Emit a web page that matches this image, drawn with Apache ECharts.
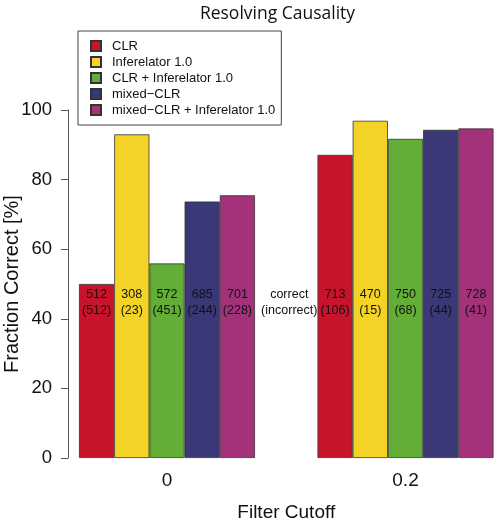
<!DOCTYPE html>
<html>
<head>
<meta charset="utf-8">
<script src="https://cdn.jsdelivr.net/npm/echarts@6/dist/echarts.min.js"></script>
<style>html,body{margin:0;padding:0;background:#fff}#c{width:498px;height:523px}</style>
</head>
<body>
<div id="c"></div>
<script>
const categories = ['0', '0.2'];
const seriesNames = ['CLR', 'Inferelator 1.0', 'CLR + Inferelator 1.0', 'mixed\u2212CLR', 'mixed\u2212CLR + Inferelator 1.0'];
const seriesColors = ['#C8142B', '#F4D327', '#62AE37', '#3A3877', '#A3327A'];
// fraction correct [%] per series, for cutoff 0 and 0.2
const clr = [50.0, 87.1];
const inferelator = [93.0, 96.9];
const clrInf = [55.9, 91.7];
const mixedClr = [73.7, 94.3];
const mixedClrInf = [75.5, 94.7];
// counts shown in bars: correct and (incorrect)
const correct0 = [512, 308, 572, 685, 701];
const incorrect0 = [512, 23, 451, 244, 228];
const correct02 = [713, 470, 750, 725, 728];
const incorrect02 = [106, 15, 68, 44, 41];
const yTicks = [0, 20, 40, 60, 80, 100];
const labelLevel = 44.8;

const values = [clr, inferelator, clrInf, mixedClr, mixedClrInf];
const catGap = 0.262;
const FONT = '"Liberation Sans", Arial, sans-serif';

const chart = echarts.init(document.getElementById('c'), null, {renderer: 'canvas'});

const barSeries = seriesNames.map((n, i) => ({
  name: n,
  type: 'bar',
  xAxisIndex: 0, yAxisIndex: 0,
  data: values[i],
  barGap: '0%',
  barCategoryGap: (catGap * 100) + '%',
  itemStyle: {color: seriesColors[i], borderColor: '#333', borderWidth: 0.8},
  emphasis: {disabled: true},
  animation: false
}));

const labelData = [];
for (let s = 0; s < 5; s++) {
  labelData.push([0, s, correct0[s], incorrect0[s]]);
  labelData.push([1, s, correct02[s], incorrect02[s]]);
}

const labelSeries = {
  type: 'custom',
  xAxisIndex: 0, yAxisIndex: 0,
  data: labelData,
  silent: true,
  animation: false,
  z: 10,
  renderItem: function (params, api) {
    const cat = api.value(0), s = api.value(1);
    const c = api.coord([cat, labelLevel]);
    const band = api.size([1, 0])[0];
    const gw = band * (1 - catGap);
    const bw = gw / 5;
    const x = c[0] - gw / 2 + bw * (s + 0.5);
    return {
      type: 'text',
      style: {
        x: x, y: c[1],
        text: api.value(2) + '\n(' + api.value(3) + ')',
        fill: '#111', font: '12.5px ' + FONT,
        align: 'center', verticalAlign: 'middle', lineHeight: 16
      }
    };
  }
};

const midSeries = {
  type: 'custom',
  xAxisIndex: 0, yAxisIndex: 0,
  data: [[0, 1]],
  silent: true,
  animation: false,
  z: 10,
  renderItem: function (params, api) {
    const a = api.coord([api.value(0), labelLevel]);
    const b = api.coord([api.value(1), labelLevel]);
    const band = api.size([1, 0])[0];
    const gw = band * (1 - catGap);
    const x = ((a[0] + gw / 2) + (b[0] - gw / 2)) / 2 + 3;
    return {
      type: 'text',
      style: {
        x: x, y: a[1],
        text: 'correct\n(incorrect)',
        fill: '#111', font: '12.5px ' + FONT,
        align: 'center', verticalAlign: 'middle', lineHeight: 16
      }
    };
  }
};

chart.setOption({
  backgroundColor: '#fff',
  animation: false,
  textStyle: {fontFamily: FONT},
  title: {
    text: 'Resolving Causality',
    left: 272.5, top: 0, textAlign: 'center',
    textStyle: {fontFamily: '"Open Sans", sans-serif', fontSize: 17.5, fontWeight: 'normal', color: '#111'}
  },
  legend: {
    data: seriesNames,
    orient: 'vertical',
    left: 78, top: 31,
    padding: [7, 6, 7, 12],
    itemWidth: 10, itemHeight: 10, itemGap: 0,
    borderColor: '#444', borderWidth: 1,
    backgroundColor: '#fff',
    textStyle: {fontFamily: FONT, fontSize: 13, color: '#111', lineHeight: 16, padding: [0, 0, 0, 6]},
    selectedMode: false,
    icon: 'rect'
  },
  grid: [
    {left: 47.75, width: 477, top: 110, bottom: 65, outerBoundsMode: 'none', containLabel: false},
    {left: 68, width: 1, top: 110, bottom: 65, outerBoundsMode: 'none', containLabel: false}
  ],
  xAxis: [
    {
      type: 'category', gridIndex: 0, data: categories,
      axisLine: {show: false}, axisTick: {show: false},
      axisLabel: {fontSize: 19, color: '#111', margin: 13, fontFamily: FONT},
      name: 'Filter Cutoff', nameLocation: 'middle', nameGap: 45, nameMoveOverlap: false,
      nameTextStyle: {fontSize: 19, color: '#111', fontFamily: FONT}
    },
    {type: 'value', gridIndex: 1, show: false}
  ],
  yAxis: [
    {type: 'value', gridIndex: 0, min: 0, max: 100, interval: 20, show: false},
    {
      type: 'value', gridIndex: 1, min: 0, max: 100, interval: 20,
      axisLine: {show: true, lineStyle: {color: '#555', width: 1}},
      axisTick: {show: true, length: 7, lineStyle: {color: '#555'}},
      splitLine: {show: false},
      axisLabel: {fontSize: 18.5, color: '#111', margin: 16, fontFamily: FONT,
        formatter: v => yTicks.includes(v) ? String(v) : ''},
      name: 'Fraction Correct [%]', nameLocation: 'middle', nameGap: 46, nameMoveOverlap: false,
      nameTextStyle: {fontSize: 20, color: '#111', fontFamily: FONT}
    }
  ],
  series: [...barSeries, labelSeries, midSeries]
});
</script>
</body>
</html>
